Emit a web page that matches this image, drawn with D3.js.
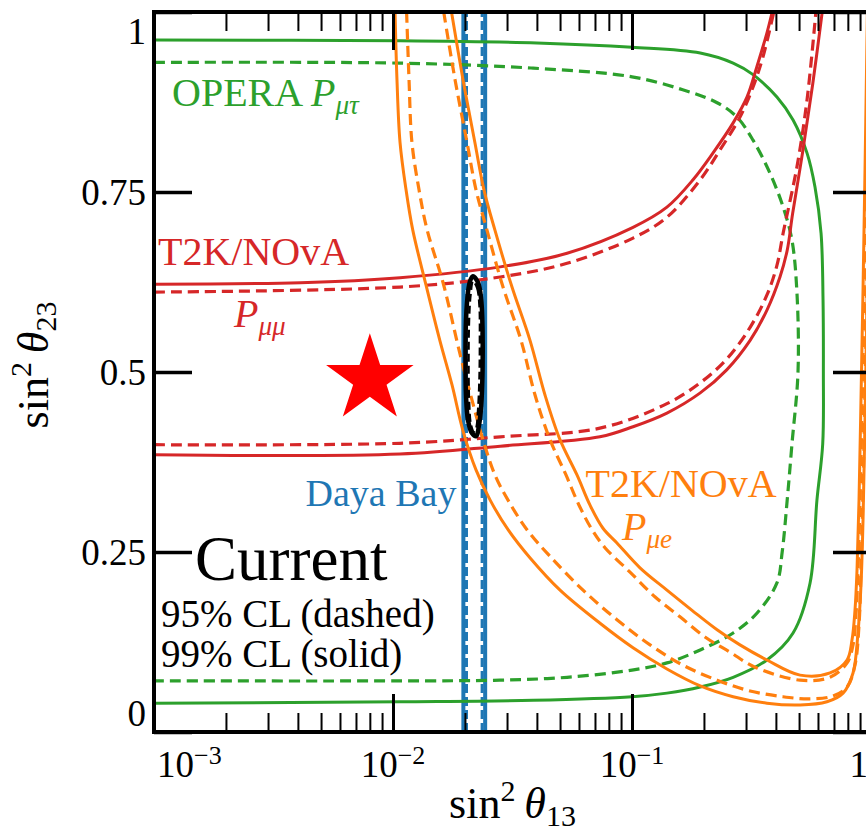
<!DOCTYPE html>
<html>
<head>
<meta charset="utf-8">
<script src="https://cdn.jsdelivr.net/npm/d3@7"></script>
<style>
  body { margin: 0; background: #fff; }
  svg { display: block; }
  text { font-family: "Liberation Serif", "Times New Roman", serif; }
</style>
</head>
<body>
<svg id="chart" width="866" height="835"></svg>
<script>
// ---- axis ticks ----
const xMajorTicks = [0.001, 0.01, 0.1, 1];
const xMajorLabels = [["10", "\u22123"], ["10", "\u22122"], ["10", "\u22121"], ["1", ""]];
const xMinorTicks = [0.002, 0.003, 0.004, 0.005, 0.006, 0.007, 0.008, 0.009,
                     0.02, 0.03, 0.04, 0.05, 0.06, 0.07, 0.08, 0.09,
                     0.2, 0.3, 0.4, 0.5, 0.6, 0.7, 0.8, 0.9];
const yTicks = [0, 0.25, 0.5, 0.75, 1];
const yTickLabels = ["0", "0.25", "0.5", "0.75", "1"];

// ---- OPERA P_mu-tau contours [sin^2 th13, sin^2 th23] ----
const operaSolid = [[0.001,0.961],[0.0107,0.960],[0.04,0.957],[0.1,0.951],[0.193,0.943],[0.265,0.929],
  [0.321,0.913],[0.404,0.882],[0.472,0.850],[0.540,0.804],[0.583,0.757],[0.618,0.693],[0.630,0.600],
  [0.632,0.500],[0.628,0.400],[0.594,0.322],[0.556,0.207],[0.472,0.1375],[0.367,0.100],[0.265,0.076],
  [0.193,0.0625],[0.140,0.054],[0.1,0.049],[0.0386,0.044],[0.0107,0.042],[0.001,0.040]];
const operaDashed = [[0.001,0.930],[0.0107,0.929],[0.0386,0.922],[0.1,0.910],[0.163,0.892],[0.227,0.874],
  [0.275,0.854],[0.321,0.822],[0.378,0.776],[0.429,0.729],[0.467,0.683],[0.490,0.610],[0.495,0.500],
  [0.467,0.400],[0.446,0.322],[0.425,0.250],[0.404,0.207],[0.333,0.165],[0.265,0.1375],[0.193,0.114],
  [0.140,0.096],[0.1,0.086],[0.0535,0.076],[0.028,0.072],[0.0107,0.071],[0.001,0.071]];

// ---- T2K/NOvA P_mu-mu contours ----
const pmmUpperSolid = [[0.001,0.622],[0.0041,0.624],[0.0107,0.631],[0.0281,0.646],[0.0535,0.665],
  [0.101,0.701],[0.140,0.729],[0.180,0.767],[0.218,0.804],[0.265,0.846],[0.303,0.882],[0.333,0.924],
  [0.367,0.971],[0.386,1.0]];
const pmmUpperDashed = [[0.001,0.611],[0.0107,0.618],[0.0281,0.632],[0.0535,0.651],[0.101,0.686],
  [0.140,0.715],[0.193,0.767],[0.233,0.808],[0.283,0.854],[0.321,0.896],[0.353,0.9375],[0.392,1.0]];
const pmmLowerSolid = [[0.001,0.385],[0.0107,0.386],[0.0281,0.397],[0.0734,0.410],[0.101,0.424],
  [0.140,0.443],[0.193,0.471],[0.249,0.503],[0.312,0.544],[0.367,0.586],[0.416,0.632],[0.446,0.669],
  [0.470,0.720],[0.519,0.808],[0.571,0.901],[0.625,1.0]];
const pmmLowerDashed = [[0.001,0.399],[0.0107,0.401],[0.0281,0.410],[0.0734,0.422],[0.140,0.456],
  [0.193,0.485],[0.249,0.518],[0.312,0.562],[0.367,0.607],[0.404,0.648],[0.429,0.693],[0.490,0.785],
  [0.540,0.878],[0.588,1.0]];

// ---- T2K/NOvA P_mu-e contours ----
const pmeLowSolid = [[0.0102,1.0],[0.01039,0.906],[0.0107,0.819],[0.01134,0.753],[0.0121,0.697],
  [0.01374,0.621],[0.0157,0.544],[0.01766,0.482],[0.0196,0.419],[0.02225,0.364],[0.0255,0.322],
  [0.0303,0.281],[0.0374,0.242],[0.0500,0.197],[0.0735,0.151],[0.101,0.117],[0.140,0.0875],
  [0.193,0.064],[0.265,0.049],[0.367,0.040],[0.505,0.0375],[0.654,0.042],[0.764,0.054],[0.841,0.082],
  [0.882,0.1375],[0.908,0.204],[0.926,0.294],[0.944,0.433],[0.962,0.600],[0.981,0.808],[0.993,1.0]];
const pmeLowDashed = [[0.0114,1.0],[0.01167,0.906],[0.0120,0.819],[0.01285,0.753],[0.0139,0.697],
  [0.0162,0.624],[0.0191,0.524],[0.02141,0.461],[0.02379,0.406],[0.02671,0.357],[0.03029,0.322],
  [0.03636,0.281],[0.04538,0.244],[0.0624,0.197],[0.0865,0.156],[0.119,0.121],[0.163,0.093],
  [0.227,0.072],[0.312,0.057],[0.428,0.049],[0.556,0.046],[0.693,0.050],[0.794,0.0625],[0.857,0.093],
  [0.891,0.149],[0.908,0.225],[0.926,0.336],[0.944,0.475],[0.962,0.642],[0.981,0.850],[0.988,1.0]];
const pmeHighSolid = [[0.01757,1.0],[0.01963,0.906],[0.0220,0.819],[0.02402,0.753],[0.0267,0.697],
  [0.03147,0.618],[0.03743,0.544],[0.04325,0.468],[0.04997,0.406],[0.05886,0.357],[0.06673,0.315],
  [0.07561,0.283],[0.0865,0.2625],[0.108,0.228],[0.140,0.197],[0.1783,0.169],[0.227,0.142],
  [0.283,0.121],[0.367,0.100],[0.505,0.079],[0.674,0.082],[0.794,0.100],[0.833,0.128],[0.857,0.169],
  [0.874,0.225],[0.891,0.322],[0.908,0.461],[0.926,0.614],[0.944,0.781],[0.962,0.961],[0.966,1.0]];
const pmeHighDashed = [[0.0163,1.0],[0.01818,0.906],[0.0204,0.819],[0.02225,0.753],[0.02473,0.697],
  [0.02886,0.618],[0.03433,0.544],[0.03929,0.468],[0.04538,0.406],[0.05294,0.357],[0.06003,0.315],
  [0.06803,0.281],[0.07706,0.256],[0.0981,0.222],[0.125,0.1875],[0.1588,0.160],[0.202,0.132],
  [0.257,0.111],[0.327,0.090],[0.505,0.072],[0.674,0.076],[0.794,0.096],[0.841,0.121],[0.865,0.1625],
  [0.882,0.225],[0.899,0.315],[0.917,0.447],[0.935,0.600],[0.953,0.767],[0.972,0.947],[0.976,1.0]];

// ---- Daya Bay sin^2 th13 bands ----
const dayaBay99 = [0.0197, 0.0243];
const dayaBay95 = [0.0203, 0.0236];

// ---- combined fit contours ----
const fit99 = [[0.0216,0.633],[0.0227,0.624],[0.0234,0.600],[0.0237,0.558],[0.0237,0.503],
  [0.0234,0.454],[0.0229,0.426],[0.0223,0.411],[0.0214,0.415],[0.0206,0.433],[0.0202,0.468],
  [0.0201,0.517],[0.0202,0.572],[0.0206,0.611],[0.0210,0.626]];
const fit95 = [[0.0216,0.626],[0.0225,0.617],[0.0230,0.593],[0.0231,0.544],[0.0230,0.489],
  [0.0227,0.447],[0.0223,0.422],[0.0218,0.417],[0.0212,0.426],[0.0208,0.461],[0.0207,0.517],
  [0.0208,0.572],[0.0211,0.607]];

// ---- reference point ----
const starPoint = [0.008, 0.49];

const COL = { green: "#2ca02c", red: "#d62728", orange: "#ff7f0e", blue: "#1f77b4" };

const svg = d3.select("#chart");
const L = 154, R = 871, T = 12, B = 732;
const x = d3.scaleLog().domain([0.001, 1]).range([L, R]);
const y = d3.scaleLinear().domain([0, 1]).range([B, T]);

svg.append("defs").append("clipPath").attr("id", "plotClip")
  .append("rect").attr("x", L).attr("y", T).attr("width", R - L).attr("height", B - T);

const plot = svg.append("g").attr("clip-path", "url(#plotClip)");

const line = d3.line().x(d => x(d[0])).y(d => y(d[1])).curve(d3.curveCatmullRom.alpha(0.5));
const loop = d3.line().x(d => x(d[0])).y(d => y(d[1])).curve(d3.curveCatmullRomClosed.alpha(0.5));

function curve(data, color, dashed, width) {
  plot.append("path").attr("d", line(data)).attr("fill", "none")
    .attr("stroke", color).attr("stroke-width", width || (dashed ? 3.2 : 3))
    .attr("stroke-dasharray", dashed ? "11,6" : null);
}

// Daya Bay
dayaBay99.forEach(v => plot.append("line").attr("x1", x(v)).attr("x2", x(v)).attr("y1", y(0)).attr("y2", y(1))
  .attr("stroke", COL.blue).attr("stroke-width", 4));
dayaBay95.forEach(v => plot.append("line").attr("x1", x(v)).attr("x2", x(v)).attr("y1", y(0)).attr("y2", y(1))
  .attr("stroke", COL.blue).attr("stroke-width", 3).attr("stroke-dasharray", "9,4"));

// OPERA
curve(operaSolid, COL.green, false);
curve(operaDashed, COL.green, true);
// P_mumu
curve(pmmUpperSolid, COL.red, false);
curve(pmmUpperDashed, COL.red, true);
curve(pmmLowerSolid, COL.red, false);
curve(pmmLowerDashed, COL.red, true);
// P_mue
curve(pmeLowSolid, COL.orange, false);
curve(pmeLowDashed, COL.orange, true);
curve(pmeHighSolid, COL.orange, false);
curve(pmeHighDashed, COL.orange, true);

// combined fit
plot.append("path").attr("d", loop(fit99)).attr("fill", "none").attr("stroke", "#000").attr("stroke-width", 4.5);
plot.append("path").attr("d", loop(fit95)).attr("fill", "none").attr("stroke", "#000").attr("stroke-width", 2.5)
  .attr("stroke-dasharray", "8,4");

// star
plot.append("path").attr("d", d3.symbol().type(d3.symbolStar).size(2375)())
  .attr("transform", `translate(${x(starPoint[0])},${y(starPoint[1])})`).attr("fill", "#ff0000");

// ---- axes: inward ticks on all four sides ----
function ticks(axis, tr, w) {
  const g = svg.append("g").attr("transform", tr).call(axis);
  g.select(".domain").remove();
  g.selectAll(".tick text").remove();
  g.selectAll(".tick line").attr("stroke", "#000").attr("stroke-width", w);
  return g;
}
ticks(d3.axisBottom(x).tickValues(xMajorTicks).tickSize(-38), `translate(0,${B})`, 3);
ticks(d3.axisTop(x).tickValues(xMajorTicks).tickSize(-38), `translate(0,${T})`, 3);
ticks(d3.axisBottom(x).tickValues(xMinorTicks).tickSize(-19), `translate(0,${B})`, 2);
ticks(d3.axisTop(x).tickValues(xMinorTicks).tickSize(-19), `translate(0,${T})`, 2);
ticks(d3.axisLeft(y).tickValues(yTicks).tickSize(-38), `translate(${L},0)`, 3.5);
ticks(d3.axisRight(y).tickValues(yTicks).tickSize(-38), `translate(${R},0)`, 3.5);

// frame
svg.append("rect").attr("x", L).attr("y", T).attr("width", R - L).attr("height", B - T)
  .attr("fill", "none").attr("stroke", "#000").attr("stroke-width", 4);

// tick labels
yTicks.forEach((v, i) => {
  const shift = i === 0 ? -19 : (i === yTicks.length - 1 ? 19 : 0);
  svg.append("text").attr("x", 146).attr("y", y(v) + shift + 12.5)
    .attr("text-anchor", "end").attr("font-size", 37).text(yTickLabels[i]);
});
xMajorTicks.forEach((v, i) => {
  const t = svg.append("text").attr("y", 777).attr("font-size", 37);
  if (i === 0) t.attr("x", L + 3).attr("text-anchor", "start");
  else if (i === xMajorTicks.length - 1) t.attr("x", R - 3).attr("text-anchor", "end");
  else t.attr("x", x(v)).attr("text-anchor", "middle");
  t.append("tspan").text(xMajorLabels[i][0]);
  if (xMajorLabels[i][1]) t.append("tspan").attr("font-size", 26).attr("dy", -13).text(xMajorLabels[i][1]);
});

// axis titles
function axisTitle(g, sub) {
  g.append("tspan").text("sin");
  g.append("tspan").attr("font-size", 30).attr("dy", -17).text("2");
  g.append("tspan").attr("dy", 17).attr("font-style", "italic").text("\u2009\u03b8");
  g.append("tspan").attr("font-size", 30).attr("dy", 8).text(sub);
}
axisTitle(svg.append("text").attr("x", (L + R) / 2).attr("y", 818).attr("text-anchor", "middle")
  .attr("font-size", 44), "13");
axisTitle(svg.append("text").attr("transform", "translate(48,365) rotate(-90)").attr("text-anchor", "middle")
  .attr("font-size", 44), "23");

// annotations
function label(px, py, color, size, parts, anchor) {
  const t = svg.append("text").attr("x", px).attr("y", py).attr("fill", color).attr("font-size", size)
    .attr("text-anchor", anchor || "start");
  parts.forEach(p => {
    const s = t.append("tspan").text(p.t);
    if (p.i) s.attr("font-style", "italic");
    if (p.sub) s.attr("font-size", size * 0.68).attr("dy", 8);
  });
  return t;
}
label(172, 106, COL.green, 40, [{ t: "OPERA " }, { t: "P", i: 1 }, { t: "\u03bc\u03c4", i: 1, sub: 1 }]);
label(158, 265, COL.red, 40, [{ t: "T2K/NOvA" }]);
label(234, 327, COL.red, 40, [{ t: "P", i: 1 }, { t: "\u03bc\u03bc", i: 1, sub: 1 }]);
label(681, 497, COL.orange, 40, [{ t: "T2K/NOvA" }], "middle");
label(622, 540, COL.orange, 40, [{ t: "P", i: 1 }, { t: "\u03bce", i: 1, sub: 1 }]);
label(381, 506, COL.blue, 38, [{ t: "Daya Bay" }], "middle");
label(195, 580, "#000", 63, [{ t: "Current" }]);
label(161, 627, "#000", 39, [{ t: "95% CL (dashed)" }]);
label(161, 667, "#000", 39, [{ t: "99% CL (solid)" }]);
</script>
</body>
</html>
